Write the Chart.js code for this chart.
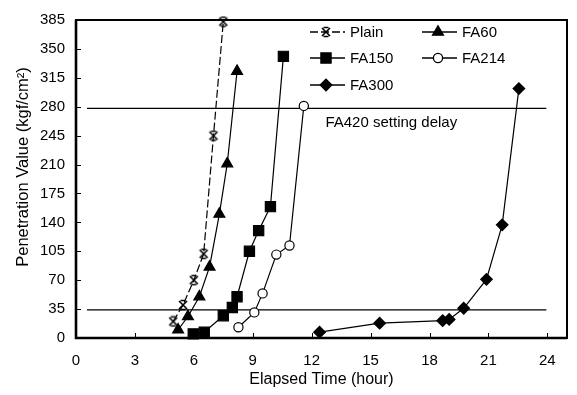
<!DOCTYPE html>
<html>
<head>
<meta charset="utf-8">
<script src="https://cdn.jsdelivr.net/npm/chart.js@4.4.0/dist/chart.umd.min.js"></script>
<style>
  html, body { margin: 0; padding: 0; background: #fff; }
  #wrap { width: 577px; height: 395px; }
</style>
</head>
<body>
<div id="wrap"><canvas id="penChart" width="577" height="395"></canvas></div>
<script>
// values (hours, kgf/cm2)
const plainX = [4.95, 5.45, 6.0, 6.5, 7.0, 7.5];
const plainY = [20, 40, 70, 102, 245, 383];
const fa60X = [5.2, 5.7, 6.28, 6.8, 7.3, 7.7, 8.2];
const fa60Y = [10, 26, 50, 86, 150, 211, 323];
const fa150X = [5.97, 6.53, 7.5, 7.96, 8.2, 8.83, 9.3, 9.9, 10.56];
const fa150Y = [5, 7, 27, 37, 50, 105, 130, 159, 341];
const fa214X = [8.27, 9.08, 9.5, 10.2, 10.87, 11.6];
const fa214Y = [13, 31, 54, 101, 112, 281];
const fa300X = [12.4, 15.46, 18.67, 19.0, 19.74, 20.9, 21.7, 22.55];
const fa300Y = [7, 18, 21, 22.5, 36, 71, 137, 302];

// FA420 setting delay limits (horizontal lines)
const limitX = [0.56, 23.95];
const upperLimit = 278;
const lowerLimit = 34;

const xTicks = [0, 3, 6, 9, 12, 15, 18, 21, 24];
const yTicks = [0, 35, 70, 105, 140, 175, 210, 245, 280, 315, 350, 385];

const seriesNames = ['Plain', 'FA60', 'FA150', 'FA214', 'FA300'];
const noteText = 'FA420 setting delay';
const yTitle = 'Penetration Value (kgf/cm²)';

const FONT = "'Liberation Sans', Arial, sans-serif";

function pts(xs, ys) {
    return xs.map((x, i) => ({ x: x, y: ys[i] }));
}

// plain marker: an X with short bars on top and bottom
function makeAsterisk(size) {
    const c = document.createElement('canvas');
    c.width = size; c.height = size;
    const g = c.getContext('2d');
    g.strokeStyle = '#000';
    g.lineWidth = 1.6;
    const s = size;
    g.beginPath();
    g.moveTo(2, 2); g.lineTo(s - 2, s - 2);
    g.moveTo(s - 2, 2); g.lineTo(2, s - 2);
    g.moveTo(3.5, 1.5); g.lineTo(s - 3.5, 1.5);
    g.moveTo(3.5, s - 1.5); g.lineTo(s - 3.5, s - 1.5);
    g.stroke();
    return c;
}
const asterisk = makeAsterisk(12);

function series(label, xs, ys, style, radius, fill, dash) {
    return {
        label: label,
        data: pts(xs, ys),
        borderColor: '#000',
        borderWidth: 1.2,
        borderDash: dash || [],
        pointStyle: style,
        pointRadius: radius,
        pointBackgroundColor: fill,
        pointBorderColor: '#000',
        pointBorderWidth: 1.2,
        tension: 0,
        clip: false
    };
}

function limitLine(y) {
    return {
        label: '',
        data: pts(limitX, [y, y]),
        borderColor: '#000',
        borderWidth: 1.3,
        pointRadius: 0
    };
}

// legend drawn inside the plot, two columns
const insideLegend = {
    id: 'insideLegend',
    afterDraw(chart) {
        const ctx = chart.ctx;
        const slots = [[310, 32], [422, 32], [310, 58], [422, 58], [310, 85]];
        ctx.save();
        seriesNames.forEach((name, i) => {
            const ds = chart.data.datasets[i];
            const [x, y] = slots[i];
            ctx.strokeStyle = '#000';
            ctx.lineWidth = 1.3;
            ctx.setLineDash(ds.borderDash);
            ctx.beginPath();
            ctx.moveTo(x, y);
            ctx.lineTo(x + 35, y);
            ctx.stroke();
            ctx.setLineDash([]);
            ctx.fillStyle = ds.pointBackgroundColor;
            Chart.helpers.drawPoint(ctx, {
                pointStyle: ds.pointStyle,
                radius: ds.pointRadius,
                borderWidth: 1.2,
                rotation: 0
            }, x + 16, y);
            ctx.fillStyle = '#000';
            ctx.font = '15px ' + FONT;
            ctx.textBaseline = 'middle';
            ctx.fillText(name, x + 40, y + 1);
        });
        ctx.restore();
    }
};

// frame, inward tick marks, note text and y title
const frameAndNote = {
    id: 'frameAndNote',
    afterDraw(chart) {
        const ctx = chart.ctx;
        const a = chart.chartArea;
        const xs = chart.scales.x, ys = chart.scales.y;
        ctx.save();
        ctx.strokeStyle = '#000';
        ctx.lineWidth = 2;
        ctx.strokeRect(a.left, a.top, a.right - a.left, a.bottom - a.top);
        ctx.lineWidth = 2.6;
        ctx.beginPath();
        ctx.moveTo(a.left, a.top);
        ctx.lineTo(a.left, a.bottom);
        ctx.lineTo(a.right, a.bottom);
        ctx.stroke();
        ctx.lineWidth = 1;
        ctx.beginPath();
        xTicks.forEach(v => {
            const px = Math.round(xs.getPixelForValue(v)) + 0.5;
            ctx.moveTo(px, a.bottom);
            ctx.lineTo(px, a.bottom - 5);
        });
        yTicks.forEach(v => {
            const py = Math.round(ys.getPixelForValue(v)) + 0.5;
            ctx.moveTo(a.left, py);
            ctx.lineTo(a.left + 5, py);
        });
        ctx.stroke();
        ctx.fillStyle = '#000';
        ctx.font = '15px ' + FONT;
        ctx.textBaseline = 'middle';
        ctx.fillText(noteText, xs.getPixelForValue(12.7), ys.getPixelForValue(260));
        ctx.translate(23, 167);
        ctx.rotate(-Math.PI / 2);
        ctx.textAlign = 'center';
        ctx.font = '16.5px ' + FONT;
        ctx.fillText(yTitle, 0, 0);
        ctx.restore();
    }
};

const ctx = document.getElementById('penChart').getContext('2d');
const penChart = new Chart(ctx, {
    type: 'line',
    data: {
        datasets: [
            series('Plain', plainX, plainY, asterisk, 6, '#000', [8, 3]),
            series('FA60', fa60X, fa60Y, 'triangle', 6.3, '#000'),
            series('FA150', fa150X, fa150Y, 'rect', 7.2, '#000'),
            series('FA214', fa214X, fa214Y, 'circle', 4.6, '#fff'),
            series('FA300', fa300X, fa300Y, 'rectRot', 5.8, '#000'),
            limitLine(upperLimit),
            limitLine(lowerLimit)
        ]
    },
    options: {
        responsive: false,
        animation: false,
        layout: { padding: { top: 13, right: 10, left: 0, bottom: 0 } },
        plugins: {
            legend: { display: false },
            tooltip: { enabled: false }
        },
        scales: {
            x: {
                type: 'linear',
                min: 0,
                max: 25,
                afterBuildTicks: s => { s.ticks = xTicks.map(v => ({ value: v })); },
                afterFit: s => { s.height = 57; },
                grid: { drawOnChartArea: false, drawTicks: false },
                border: { display: false },
                ticks: { color: '#000', padding: 14, maxRotation: 0, font: { family: FONT, size: 15 } },
                title: {
                    display: true,
                    text: 'Elapsed Time (hour)',
                    color: '#000',
                    padding: { top: 0, bottom: 6 },
                    font: { family: FONT, size: 16 }
                }
            },
            y: {
                type: 'linear',
                min: 0,
                max: 385,
                afterBuildTicks: s => { s.ticks = yTicks.map(v => ({ value: v })); },
                afterFit: s => { s.width = 76; },
                grid: { drawOnChartArea: false, drawTicks: false },
                border: { display: false },
                ticks: { color: '#000', padding: 11, font: { family: FONT, size: 15 } }
            }
        }
    },
    plugins: [insideLegend, frameAndNote]
});
</script>
</body>
</html>
